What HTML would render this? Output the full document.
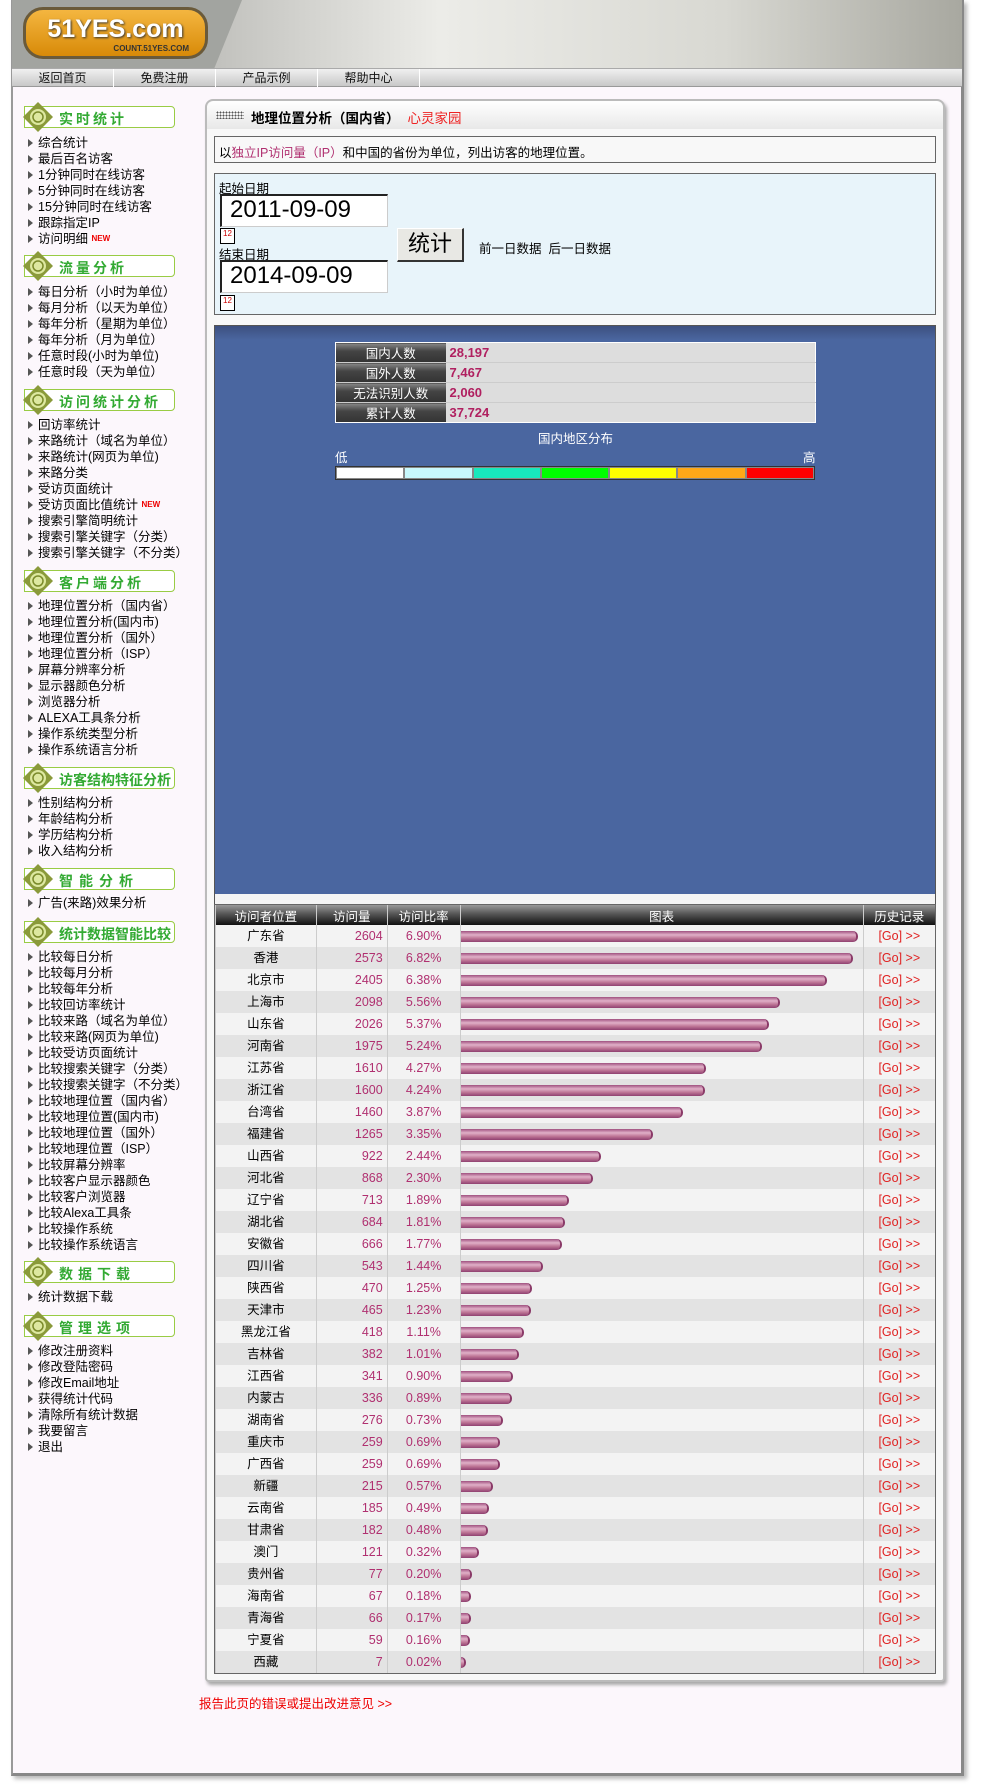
<!DOCTYPE html>
<html><head><meta charset="utf-8">
<style>
*{margin:0;padding:0;box-sizing:border-box}
body{width:989px;height:1786px;background:#fff;font-family:"Liberation Sans","Noto Sans CJK SC",sans-serif;font-size:13px;color:#000;position:relative;overflow:hidden}
.abs{position:absolute}
#frame{left:11px;top:0;width:953px;height:1776px;background:#fcf7fc;border-left:2px solid #999;border-right:3px solid #888;border-bottom:3px solid #888;box-shadow:3px 3px 4px #bbb}
#header{left:12px;top:0;width:950px;height:68px;background:linear-gradient(90deg,#9a9a96 0%,#c8c8c4 25%,#ecece8 45%,#d8d8d2 75%,#a8a8a0 100%)}
#logo-bg{left:12px;top:0;width:230px;height:68px;background:#a2a4a0;clip-path:polygon(0 0,100% 0,88% 100%,0 100%)}
#logo{left:23px;top:7px;width:185px;height:52px;border-radius:20px;background:linear-gradient(#f4b640,#d88a08);border:3px solid #6a5a3a;color:#fff;font-weight:bold;font-size:25px;text-align:center;line-height:38px;text-shadow:1px 1px 2px #333}
#logo small{position:absolute;right:16px;bottom:2px;font-size:8px;line-height:10px;color:#333;text-shadow:none}
#nav{left:12px;top:68px;width:950px;height:19px;background:linear-gradient(#f0f0f0,#c8c8c8);border-top:1px solid #aaa;border-bottom:1px solid #999}
.navi{position:absolute;top:0;width:102px;height:18px;line-height:18px;text-align:center;font-size:12px;border-right:1px solid #fff;color:#111}
.sh{position:absolute;left:24px;width:151px;height:22px;border:1px solid #9c4;border-radius:0 4px 4px 0;background:#fff}
.sh .dia{position:absolute;left:-2px;top:-5px;width:30px;height:30px}
.sh span{position:absolute;left:34px;top:2px;color:#3a3;font-weight:bold;font-size:14px;letter-spacing:3px}
.sl{position:absolute;left:28px;font-size:12.5px;line-height:16px}
.sl div{height:16px;white-space:nowrap}
.sl div:before{content:"";display:inline-block;border-left:5px solid #555;border-top:4px solid transparent;border-bottom:4px solid transparent;margin-right:5px;vertical-align:0px}
.new{color:#e00;font-size:8px;vertical-align:top;font-weight:bold}
#panel{left:205px;top:99px;width:740px;height:1583px;background:#f8f8f8;border:2px solid #bbb;border-radius:8px 8px 4px 4px;box-shadow:2px 3px 3px #aaa}
#tab{left:843px;top:101px;width:100px;height:14px;background:linear-gradient(#f0a080,#e07050);border-radius:8px 8px 0 0}
.box{position:absolute;border:1px solid #666}
table{border-collapse:collapse}
#data-table tr.r{height:22px}
#data-table tr.r td{height:22px;line-height:21px;font-size:12.5px;padding-top:0;padding-bottom:0}
</style></head>
<body>
<div class="abs" id="frame"></div>
<div class="abs" id="header"></div>
<div class="abs" id="logo-bg"></div>
<div class="abs" id="logo">51YES.com<small>COUNT.51YES.COM</small></div>
<div class="abs" id="nav">
<div class="navi" style="left:0">返回首页</div>
<div class="navi" style="left:102px">免费注册</div>
<div class="navi" style="left:204px">产品示例</div>
<div class="navi" style="left:306px">帮助中心</div>
</div>

<div id="sidebar">
<div class="sh" style="top:106px"><svg class="dia" viewBox="0 0 30 30"><polygon points="15,0 30,15 15,30 0,15" fill="#8a9a3a"/><circle cx="15" cy="15" r="8" fill="#dde8a0"/><circle cx="15" cy="15" r="5" fill="none" stroke="#7a8a2a" stroke-width="1.5"/></svg><span>实时统计</span></div>
<div class="sl" style="top:135px">
<div>综合统计</div><div>最后百名访客</div><div>1分钟同时在线访客</div><div>5分钟同时在线访客</div><div>15分钟同时在线访客</div><div>跟踪指定IP</div><div>访问明细 <span class="new">NEW</span></div></div>

<div class="sh" style="top:255px"><svg class="dia" viewBox="0 0 30 30"><polygon points="15,0 30,15 15,30 0,15" fill="#8a9a3a"/><circle cx="15" cy="15" r="8" fill="#dde8a0"/><circle cx="15" cy="15" r="5" fill="none" stroke="#7a8a2a" stroke-width="1.5"/></svg><span>流量分析</span></div>
<div class="sl" style="top:284px">
<div>每日分析（小时为单位）</div><div>每月分析（以天为单位）</div><div>每年分析（星期为单位）</div><div>每年分析（月为单位）</div><div>任意时段(小时为单位)</div><div>任意时段（天为单位）</div></div>

<div class="sh" style="top:389px"><svg class="dia" viewBox="0 0 30 30"><polygon points="15,0 30,15 15,30 0,15" fill="#8a9a3a"/><circle cx="15" cy="15" r="8" fill="#dde8a0"/><circle cx="15" cy="15" r="5" fill="none" stroke="#7a8a2a" stroke-width="1.5"/></svg><span>访问统计分析</span></div>
<div class="sl" style="top:417px">
<div>回访率统计</div><div>来路统计（域名为单位）</div><div>来路统计(网页为单位)</div><div>来路分类</div><div>受访页面统计</div><div>受访页面比值统计 <span class="new">NEW</span></div><div>搜索引擎简明统计</div><div>搜索引擎关键字（分类）</div><div>搜索引擎关键字（不分类）</div></div>

<div class="sh" style="top:570px"><svg class="dia" viewBox="0 0 30 30"><polygon points="15,0 30,15 15,30 0,15" fill="#8a9a3a"/><circle cx="15" cy="15" r="8" fill="#dde8a0"/><circle cx="15" cy="15" r="5" fill="none" stroke="#7a8a2a" stroke-width="1.5"/></svg><span>客户端分析</span></div>
<div class="sl" style="top:598px">
<div>地理位置分析（国内省）</div><div>地理位置分析(国内市)</div><div>地理位置分析（国外）</div><div>地理位置分析（ISP）</div><div>屏幕分辨率分析</div><div>显示器颜色分析</div><div>浏览器分析</div><div>ALEXA工具条分析</div><div>操作系统类型分析</div><div>操作系统语言分析</div></div>

<div class="sh" style="top:767px"><svg class="dia" viewBox="0 0 30 30"><polygon points="15,0 30,15 15,30 0,15" fill="#8a9a3a"/><circle cx="15" cy="15" r="8" fill="#dde8a0"/><circle cx="15" cy="15" r="5" fill="none" stroke="#7a8a2a" stroke-width="1.5"/></svg><span style="letter-spacing:0">访客结构特征分析</span></div>
<div class="sl" style="top:795px">
<div>性别结构分析</div><div>年龄结构分析</div><div>学历结构分析</div><div>收入结构分析</div></div>

<div class="sh" style="top:868px"><svg class="dia" viewBox="0 0 30 30"><polygon points="15,0 30,15 15,30 0,15" fill="#8a9a3a"/><circle cx="15" cy="15" r="8" fill="#dde8a0"/><circle cx="15" cy="15" r="5" fill="none" stroke="#7a8a2a" stroke-width="1.5"/></svg><span style="letter-spacing:6px">智能分析</span></div>
<div class="sl" style="top:895px">
<div>广告(来路)效果分析</div></div>

<div class="sh" style="top:921px"><svg class="dia" viewBox="0 0 30 30"><polygon points="15,0 30,15 15,30 0,15" fill="#8a9a3a"/><circle cx="15" cy="15" r="8" fill="#dde8a0"/><circle cx="15" cy="15" r="5" fill="none" stroke="#7a8a2a" stroke-width="1.5"/></svg><span style="letter-spacing:0">统计数据智能比较</span></div>
<div class="sl" style="top:949px">
<div>比较每日分析</div><div>比较每月分析</div><div>比较每年分析</div><div>比较回访率统计</div><div>比较来路（域名为单位）</div><div>比较来路(网页为单位)</div><div>比较受访页面统计</div><div>比较搜索关键字（分类）</div><div>比较搜索关键字（不分类）</div><div>比较地理位置（国内省）</div><div>比较地理位置(国内市)</div><div>比较地理位置（国外）</div><div>比较地理位置（ISP）</div><div>比较屏幕分辨率</div><div>比较客户显示器颜色</div><div>比较客户浏览器</div><div>比较Alexa工具条</div><div>比较操作系统</div><div>比较操作系统语言</div></div>

<div class="sh" style="top:1261px"><svg class="dia" viewBox="0 0 30 30"><polygon points="15,0 30,15 15,30 0,15" fill="#8a9a3a"/><circle cx="15" cy="15" r="8" fill="#dde8a0"/><circle cx="15" cy="15" r="5" fill="none" stroke="#7a8a2a" stroke-width="1.5"/></svg><span style="letter-spacing:5px">数据下载</span></div>
<div class="sl" style="top:1289px">
<div>统计数据下载</div></div>

<div class="sh" style="top:1315px"><svg class="dia" viewBox="0 0 30 30"><polygon points="15,0 30,15 15,30 0,15" fill="#8a9a3a"/><circle cx="15" cy="15" r="8" fill="#dde8a0"/><circle cx="15" cy="15" r="5" fill="none" stroke="#7a8a2a" stroke-width="1.5"/></svg><span style="letter-spacing:5px">管理选项</span></div>
<div class="sl" style="top:1343px">
<div>修改注册资料</div><div>修改登陆密码</div><div>修改Email地址</div><div>获得统计代码</div><div>清除所有统计数据</div><div>我要留言</div><div>退出</div></div>
</div>

<div class="abs" id="tab"></div>
<div class="abs" id="panel"></div>
<div class="abs" style="left:207px;top:101px;width:736px;height:28px;background:linear-gradient(#fff,#e8e8e8);border-radius:8px 8px 0 0"></div>
<div class="abs" style="left:216px;top:111px;width:28px;height:8px;background-image:radial-gradient(#555 0.8px,transparent 0.9px);background-size:3px 3px"></div>
<div class="abs" style="left:251px;top:107px;font-size:13.5px;font-weight:bold;white-space:nowrap">地理位置分析（国内省）<span style="color:#e22;font-weight:normal;margin-left:8px">心灵家园</span></div>

<div class="box" style="left:214px;top:136px;width:722px;height:27px;background:#f8f8f8;padding:5px 4px;font-size:12.5px">以<span style="color:#b03070">独立IP访问量（IP）</span>和中国的省份为单位，列出访客的地理位置。</div>

<div class="box" style="left:214px;top:173px;width:722px;height:142px;background:#e8f4fa">
<div class="abs" style="left:4px;top:4px;font-size:12.5px">起始日期</div>
<div class="abs" style="left:5px;top:20px;width:168px;height:33px;background:#fff;border-top:2px solid #222;border-left:2px solid #222;border-right:1px solid #ccc;border-bottom:1px solid #ccc;font-size:24px;line-height:28px;padding:0 8px">2011-09-09</div>
<div class="abs" style="left:5px;top:54px;width:15px;height:16px;background:#fff;border:1px solid #000;font-size:8px;color:#c00;text-align:center">12</div>
<div class="abs" style="left:4px;top:70px;font-size:12.5px">结束日期</div>
<div class="abs" style="left:5px;top:86px;width:168px;height:33px;background:#fff;border-top:2px solid #222;border-left:2px solid #222;border-right:1px solid #ccc;border-bottom:1px solid #ccc;font-size:24px;line-height:28px;padding:0 8px">2014-09-09</div>
<div class="abs" style="left:5px;top:121px;width:15px;height:16px;background:#fff;border:1px solid #000;font-size:8px;color:#c00;text-align:center">12</div>
<div class="abs" style="left:182px;top:54px;width:67px;height:34px;background:#e8e8e4;border-top:1px solid #fff;border-left:1px solid #fff;border-right:2px solid #333;border-bottom:2px solid #333;font-size:22px;text-align:center;line-height:30px">统计</div>
<div class="abs" style="left:264px;top:64px;font-size:12.5px;white-space:nowrap"><span>前一日数据</span>&nbsp;&nbsp;<span>后一日数据</span></div>
</div>

<div class="box" style="left:214px;top:325px;width:722px;height:580px;background:#4a66a0;border-color:#555">
<div class="abs" style="left:0;top:0;width:720px;height:14px;background:linear-gradient(#3c5080,#4a66a0)"></div>
<div class="abs" style="left:0;bottom:0;width:720px;height:10px;background:#f4f4f4"></div>
</div>
<table class="abs" style="left:335px;top:342px;width:481px;border:1px solid #fff;background:#ddd">
<tr><td style="width:110px;height:17px;background:linear-gradient(#888,#444 40%,#333);color:#fff;text-align:center;font-size:12.5px;border-bottom:1px solid #ccc">国内人数</td><td style="color:#b02060;font-weight:bold;padding-left:4px;border-bottom:1px solid #ccc">28,197</td></tr>
<tr><td style="height:17px;background:linear-gradient(#888,#444 40%,#333);color:#fff;text-align:center;font-size:12.5px;border-bottom:1px solid #ccc">国外人数</td><td style="color:#b02060;font-weight:bold;padding-left:4px;border-bottom:1px solid #ccc">7,467</td></tr>
<tr><td style="height:17px;background:linear-gradient(#888,#444 40%,#333);color:#fff;text-align:center;font-size:12.5px;border-bottom:1px solid #ccc">无法识别人数</td><td style="color:#b02060;font-weight:bold;padding-left:4px;border-bottom:1px solid #ccc">2,060</td></tr>
<tr><td style="height:17px;background:linear-gradient(#888,#444 40%,#333);color:#fff;text-align:center;font-size:12.5px">累计人数</td><td style="color:#b02060;font-weight:bold;padding-left:4px">37,724</td></tr>
</table>
<div class="abs" style="left:335px;top:428px;width:481px;text-align:center;color:#fff;font-size:12.5px">国内地区分布</div>
<div class="abs" style="left:335px;top:447px;color:#fff;font-size:12.5px">低</div>
<div class="abs" style="left:803px;top:447px;color:#fff;font-size:12.5px">高</div>
<div class="abs" style="left:335px;top:466px;width:480px;height:14px;display:flex;border:1px solid #333;background:#888">
<div style="flex:1;background:#fff;margin:1px"></div><div style="flex:1;background:#c8f8fc;margin:1px"></div><div style="flex:1;background:#18e8bc;margin:1px"></div><div style="flex:1;background:#00ff00;margin:1px"></div><div style="flex:1;background:#ffff00;margin:1px"></div><div style="flex:1;background:#ffa818;margin:1px"></div><div style="flex:1;background:#ff0000;margin:1px"></div>
</div>

<div class="abs" id="tbl" style="left:214px;top:904px;width:722px;border:1px solid #666"></div>
<div class="abs" style="left:199px;top:1693px;color:#e00;font-size:12.5px">报告此页的错误或提出改进意见 &gt;&gt;</div>

<script>
const provinces=["广东省","香港","北京市","上海市","山东省","河南省","江苏省","浙江省","台湾省","福建省","山西省","河北省","辽宁省","湖北省","安徽省","四川省","陕西省","天津市","黑龙江省","吉林省","江西省","内蒙古","湖南省","重庆市","广西省","新疆","云南省","甘肃省","澳门","贵州省","海南省","青海省","宁夏省","西藏"];
const visits=[2604,2573,2405,2098,2026,1975,1610,1600,1460,1265,922,868,713,684,666,543,470,465,418,382,341,336,276,259,259,215,185,182,121,77,67,66,59,7];
const rates=["6.90%","6.82%","6.38%","5.56%","5.37%","5.24%","4.27%","4.24%","3.87%","3.35%","2.44%","2.30%","1.89%","1.81%","1.77%","1.44%","1.25%","1.23%","1.11%","1.01%","0.90%","0.89%","0.73%","0.69%","0.69%","0.57%","0.49%","0.48%","0.32%","0.20%","0.18%","0.17%","0.16%","0.02%"];
const headers=["访问者位置","访问量","访问比率","图表","历史记录"];
const colW=[101,71,73,403,72];
const barMax=Math.max(...visits);
const barScale=v=>v/barMax*397;
const tbl=document.getElementById('tbl');
const t=document.createElement('table');
t.id='data-table';
t.style.width='720px';


const hr=document.createElement('tr');
headers.forEach((h,i)=>{const th=document.createElement('td');th.textContent=h;


th.style.cssText='width:'+colW[i]+'px;height:20px;background:linear-gradient(#999,#555 45%,#111);color:#fff;text-align:center;font-size:12.5px;border-left:1px solid #ccc';hr.appendChild(th);});
t.appendChild(hr);
provinces.forEach((p,r)=>{
 const tr=document.createElement('tr');
 tr.className='r';
 
 
 tr.style.background=r%2?'#e3e3e3':'#f3f3f3';
 const c=[p,visits[r],rates[r],'',''];
 for(let i=0;i<5;i++){const td=document.createElement('td');
  
  
  td.style.borderLeft='1px solid #ccc';
  if(i==0){td.textContent=c[i];td.style.textAlign='center';}
  else if(i==1){td.textContent=c[i];td.style.textAlign='right';td.style.paddingRight='4px';td.style.color='#b03070';}
  else if(i==2){td.textContent=c[i];td.style.textAlign='center';td.style.color='#b03070';}
  else if(i==3){const b=document.createElement('div');
   
   
   b.style.cssText='height:11px;width:'+Math.max(barScale(visits[r]),5)+'px;background:linear-gradient(#a05080,#e0b0c8 35%,#c07898 65%,#904070);border-radius:0 5px 5px 0;border-right:2px solid #8a3a68';td.appendChild(b);}
  else {td.textContent='[Go] >>';td.style.textAlign='center';td.style.color='#e02020';}
  tr.appendChild(td);}
 t.appendChild(tr);
});
tbl.appendChild(t);
</script>
</body></html>
